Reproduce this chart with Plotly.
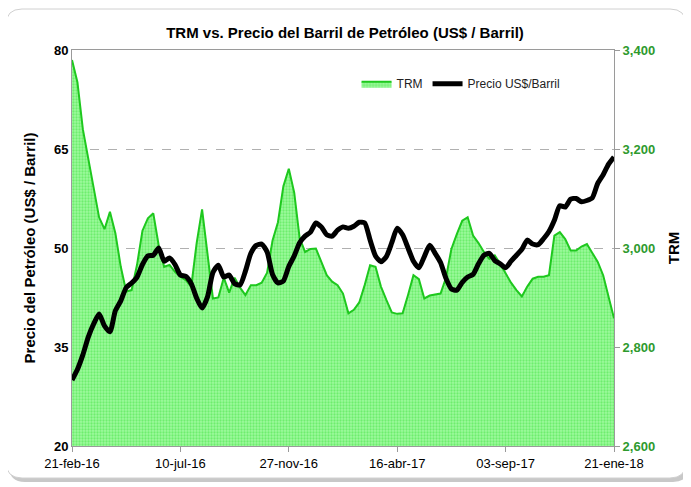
import pandas as pd
import plotly.graph_objects as go

# ---- data (weekly, 21-feb-2016 .. 21-ene-2018) ----
start_date = "2016-02-21"
n_weeks = 101

trm = [3380, 3335, 3240, 3180, 3120, 3062, 3038, 3073, 3030, 2962,
       2912, 2915, 2966, 3035, 3060, 3070, 3005, 2962, 2966, 2952,
       2942, 2935, 2922, 3010, 3078, 2985, 2898, 2900, 2940, 2910,
       2940, 2920, 2905, 2925, 2925, 2930, 2950, 3015, 3052, 3125,
       3160, 3112, 3020, 2992, 2998, 2999, 2970, 2945, 2932, 2925,
       2908, 2868, 2875, 2890, 2925, 2965, 2962, 2922, 2895, 2870,
       2867, 2868, 2905, 2945, 2937, 2898, 2904, 2906, 2908, 2940,
       2998, 3028, 3055, 3062, 3025, 3010, 2992, 2978, 2985, 2968,
       2948, 2930, 2915, 2902, 2922, 2938, 2942, 2942, 2945, 3025,
       3032, 3018, 2995, 2995, 3003, 3008, 2990, 2972, 2945, 2900,
       2858]

precio = [30.0, 31.6, 33.8, 36.5, 38.5, 40.0, 38.2, 37.3, 40.5, 42.0,
          44.0, 44.7, 45.6, 47.5, 48.8, 48.9, 50.0, 48.0, 48.5, 47.5,
          45.9, 45.7, 44.6, 42.4, 40.9, 42.6, 46.3, 47.4, 45.6, 45.9,
          44.6, 44.4, 46.5, 49.2, 50.4, 50.6, 49.4, 46.0, 44.7, 45.0,
          47.2, 48.8, 50.8, 51.8, 52.4, 53.8, 53.2, 52.0, 51.8, 52.7,
          53.2, 53.0, 53.3, 53.9, 53.8, 51.2, 48.8, 47.9, 48.7, 50.8,
          53.0, 52.0, 50.0, 48.0, 47.0, 48.7, 50.4, 49.2, 47.8, 45.4,
          43.8, 43.6, 44.8, 45.6, 46.0, 47.6, 48.9, 49.2, 48.1, 47.6,
          47.0, 48.0, 48.9, 49.8, 51.2, 50.6, 50.5, 51.4, 52.5, 54.2,
          56.4, 56.2, 57.4, 57.5, 57.0, 57.2, 57.6, 59.8, 61.1, 62.7,
          63.8]

tick_dates = ["2016-02-21", "2016-07-10", "2016-11-27", "2017-04-16", "2017-09-03", "2018-01-21"]
tick_labels = ["21-feb-16", "10-jul-16", "27-nov-16", "16-abr-17", "03-sep-17", "21-ene-18"]

dates = pd.date_range(start_date, periods=n_weeks, freq="7D")

FONT = "Liberation Sans Narrow, Arial Narrow, Liberation Sans, Arial, sans-serif"

# page has an 8px body margin: figure origin sits at (8, 8) on screen
OFF = 8
PL, PT, PW, PH = 72, 50, 542, 396   # plot area on screen
FW, FH = 691 - OFF, 487 - OFF

fig = go.Figure()

fig.add_trace(go.Scatter(
    x=dates, y=trm, name="TRM", yaxis="y", mode="lines",
    line=dict(color="#1EC81E", width=2),
    fill="tozeroy", fillcolor="#8AF58A",
    fillpattern=dict(shape=".", bgcolor="#9DFA9D", fgcolor="#3FE03F", size=3, solidity=0.45),
))
fig.add_trace(go.Scatter(
    x=dates, y=precio, name="Precio US$/Barril", yaxis="y2", mode="lines",
    line=dict(color="#000000", width=5, shape="spline", smoothing=0.6),
))

def rounded(x0, y0, x1, y1, r):
    X = lambda px: (px - PL) / PW
    Y = lambda py: (PT + PH - py) / PH
    return (f"M {X(x0 + r)} {Y(y0)} L {X(x1 - r)} {Y(y0)} Q {X(x1)} {Y(y0)} {X(x1)} {Y(y0 + r)} "
            f"L {X(x1)} {Y(y1 - r)} Q {X(x1)} {Y(y1)} {X(x1 - r)} {Y(y1)} "
            f"L {X(x0 + r)} {Y(y1)} Q {X(x0)} {Y(y1)} {X(x0)} {Y(y1 - r)} "
            f"L {X(x0)} {Y(y0 + r)} Q {X(x0)} {Y(y0)} {X(x0 + r)} {Y(y0)} Z")

shapes = [
    dict(type="path", xref="paper", yref="paper", path=rounded(9, 12, 689, 482, 16),
         line=dict(color="rgba(0,0,0,0)", width=0), fillcolor="#c8c8c8", layer="below"),
    dict(type="path", xref="paper", yref="paper", path=rounded(6, 9, 686, 478, 16),
         line=dict(color="#d0d0d0", width=1), fillcolor="white", layer="below"),
]

fig.update_layout(
    width=FW, height=FH,
    margin=dict(l=PL - OFF, r=FW - (PL - OFF) - PW, t=PT - OFF, b=FH - (PT - OFF) - PH),
    paper_bgcolor="white", plot_bgcolor="white",
    font=dict(family=FONT, color="#000000"),
    title=dict(text="<b>TRM vs. Precio del Barril de Petróleo (US$ / Barril)</b>",
               x=(345 - OFF) / FW, xanchor="center", y=1 - (33 - OFF) / FH, yanchor="middle",
               font=dict(size=15, family=FONT)),
    showlegend=True,
    legend=dict(orientation="h", x=0.525, y=0.915, xanchor="left", yanchor="middle",
                bgcolor="rgba(0,0,0,0)", font=dict(size=12, family=FONT, color="#222"),
                itemwidth=30, tracegroupgap=0),
    xaxis=dict(range=[dates[0], dates[-1]], tickvals=tick_dates, ticktext=tick_labels,
               tickfont=dict(size=13, family=FONT), showgrid=False,
               showline=True, linecolor="#9a9a9a", linewidth=1, mirror=True,
               ticks="outside", ticklen=5, tickcolor="#9a9a9a", zeroline=False,
               tickprefix="<b>", ticksuffix="</b>"),
    yaxis=dict(range=[2600, 3400], tick0=2600, dtick=200, tickformat=",", side="right",
               tickfont=dict(size=13, color="#2E9A2E", family=FONT),
               showgrid=False, zeroline=False, showline=True, linecolor="#9a9a9a",
               ticks="outside", ticklen=5, tickcolor="#9a9a9a",
               tickprefix="<b>", ticksuffix="</b>",
               title=dict(text="<b>TRM</b>", font=dict(size=15, family=FONT), standoff=14)),
    yaxis2=dict(range=[20, 80], tick0=20, dtick=15, side="left", overlaying="y",
                tickfont=dict(size=13, family=FONT), showgrid=True,
                gridcolor="#b0b0b0", griddash="dash", gridwidth=1, zeroline=False,
                showline=True, linecolor="#9a9a9a",
                tickprefix="<b>", ticksuffix="</b>",
                title=dict(text="<b>Precio del Petróleo (US$ / Barril)</b>",
                           font=dict(size=15, family=FONT), standoff=14)),
    shapes=shapes,
)

fig.write_html("out.html")
